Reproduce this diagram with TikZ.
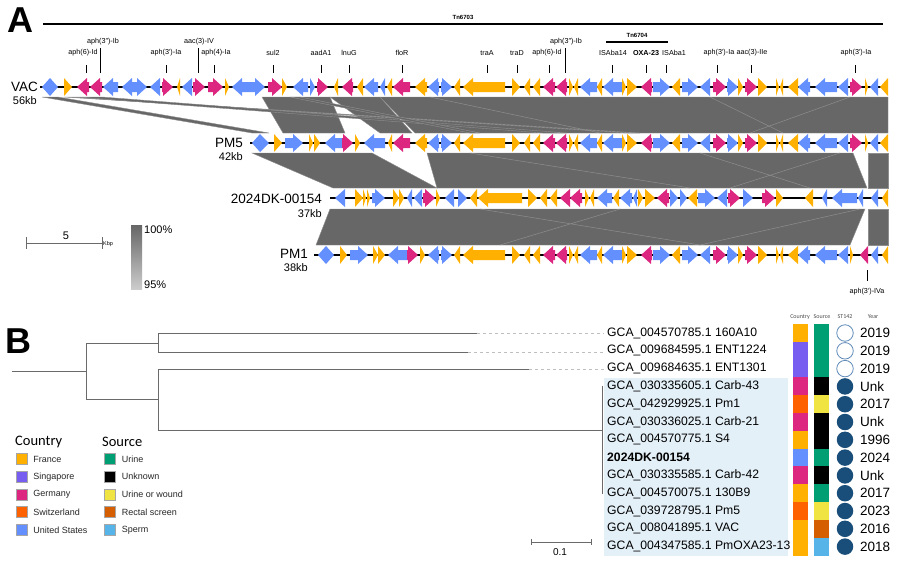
\documentclass[tikz,border=0pt]{standalone}
\usepackage{fontspec}
\setmainfont{Liberation Sans}
\newfontfamily\legfont{Carlito}
\usetikzlibrary{positioning}

\definecolor{geneo}{HTML}{FFB000}
\definecolor{genep}{HTML}{DC267F}
\definecolor{geneb}{HTML}{648FFF}
\definecolor{bandgray}{HTML}{676767}
\definecolor{bandedge}{HTML}{8E8E8E}
\definecolor{treegray}{HTML}{6A6A6A}
\definecolor{cFrance}{HTML}{FFB000}
\definecolor{cSing}{HTML}{785EF0}
\definecolor{cGer}{HTML}{DC267F}
\definecolor{cSwi}{HTML}{FE6100}
\definecolor{cUSA}{HTML}{648FFF}
\definecolor{sUrine}{HTML}{009E73}
\definecolor{sUnk}{HTML}{000000}
\definecolor{sWound}{HTML}{F0E442}
\definecolor{sRectal}{HTML}{D55E00}
\definecolor{sSperm}{HTML}{56B4E9}
\definecolor{stblue}{HTML}{1A4E7A}
\definecolor{stopen}{HTML}{5F8AB8}
\definecolor{cladebg}{HTML}{E4F0F8}

% gene arrows: start/end/direction/colour, on a track at height #1
\newcommand{\drawgenes}[2]{%
  \foreach \ga/\gb/\gd/\gc in #2 {%
    \pgfmathsetmacro{\ghd}{min(\gb-\ga,10)}%
    \pgfmathsetmacro{\gtip}{\gd>0 ? \gb : \ga}%
    \pgfmathsetmacro{\gtail}{\gd>0 ? \ga : \gb}%
    \pgfmathsetmacro{\ghb}{\gtip-(\gd)*\ghd}%
    \fill[gene\gc] (\gtail,#1-5) -- (\ghb,#1-5) -- (\ghb,#1-9) -- (\gtip,#1)
      -- (\ghb,#1+9) -- (\ghb,#1+5) -- (\gtail,#1+5) -- cycle;
  }}

\def\vacleft{42/50/-1/b, 50/58/1/b, 64/72/1/o, 77/89/-1/p, 90/102/-1/p,
  103/118/-1/b, 122/132/-1/b, 132/147/1/b, 150/160/-1/b, 162/173/1/p,
  177/180/-1/o, 182/192/-1/b, 193/205/1/p, 208/223/1/p, 225/229/1/o,
  232/242/-1/b, 242/265/1/b, 268/282/1/p, 282/287/1/o, 293/308/-1/b,
  310/315/1/b, 317/328/1/p, 334/338/-1/o, 342/353/-1/p, 357/363/-1/o,
  364/378/-1/b, 380/385/-1/b, 387/392/-1/o, 393/410/-1/p}
\def\vacmidA{415/427/-1/o}
\def\vacmid{428/439/-1/b, 441/452/1/b, 454/460/-1/o, 463/505/-1/o,
  512/520/1/o, 524/530/-1/o, 533/540/-1/o, 543/555/-1/p, 556/567/-1/p,
  569/573/1/o, 574/578/-1/o, 580/597/-1/b, 597/602/-1/o, 603/622/-1/b,
  622/626/1/o, 627/637/1/o, 641/652/-1/p, 653/670/1/b, 672/680/-1/o,
  682/698/1/b, 700/710/-1/b, 713/726/1/p, 727/738/1/b, 738/743/1/o,
  745/757/1/p, 758/767/1/o, 776/779/1/o, 780/783/-1/o, 788/798/-1/o,
  798/810/-1/b, 815/837/-1/b, 838/848/-1/b}
\def\vacend{850/862/1/p, 865/868/1/o, 870/878/-1/b, 880/888/-1/o}
\def\pmfiveleft{252/260/-1/b, 260/269/1/b, 274/282/1/o, 285/303/1/b,
  309/313/1/o, 314/320/1/o, 325/342/-1/b, 342/353/1/p, 355/360/1/o,
  364/385/-1/b, 388/392/-1/o, 393/410/-1/p}
\def\pmoneleft{318/326/-1/b, 326/334/1/b, 340/347/1/o, 350/368/1/b,
  373/378/1/o, 378/385/1/o, 388/407/-1/b, 407/418/1/p, 420/425/1/o}
\def\pmoneend{850/853/1/o, 860/868/-1/p, 871/878/-1/b, 882/888/-1/o}
\def\dkgenes{335/345/-1/b, 355/363/1/o, 363/366/1/o, 367/370/1/o,
  372/385/1/b, 393/399/1/o, 399/404/1/o, 407/412/-1/b, 414/422/-1/b,
  423/435/1/p, 436/440/1/o, 445/454/-1/b, 458/467/1/b, 470/477/-1/o,
  478/522/-1/o, 528/537/1/o, 540/547/-1/o, 550/557/-1/o, 560/570/-1/p,
  570/582/-1/p, 585/589/1/o, 590/594/-1/o, 597/612/-1/b, 613/619/-1/o,
  620/632/-1/b, 633/637/-1/b, 638/643/1/o, 645/655/1/o, 657/669/-1/p,
  670/678/1/b, 680/687/1/b, 688/697/-1/o, 698/715/1/b, 717/727/-1/b,
  728/740/1/p, 743/753/1/b, 762/775/1/p, 776/783/1/o, 805/813/-1/o,
  822/827/-1/b, 832/857/-1/b, 858/863/-1/b, 871/878/-1/b, 882/888/-1/o}

\begin{document}
\begin{tikzpicture}[x=1pt,y=-1pt,
  panel/.style={font=\fontsize{36}{36}\selectfont\bfseries, inner sep=0pt},
  genelbl/.style={font=\fontsize{7.2}{8}\selectfont, inner sep=0pt},
  genetick/.style={line width=0.6pt},
  tnlbl/.style={font=\fontsize{6}{7}\selectfont\bfseries, inner sep=0pt},
  trkname/.style={font=\fontsize{13.5}{15}\selectfont, anchor=east, inner sep=0pt},
  trksize/.style={font=\fontsize{11}{12}\selectfont, anchor=east, inner sep=0pt},
  backbone/.style={line width=2pt},
  band/.style={fill=bandgray, draw=bandedge, line width=0.4pt},
  bandline/.style={draw=bandedge, line width=0.5pt},
  branch/.style={draw=treegray, line width=0.9pt},
  leaflbl/.style={font=\fontsize{12.2}{14}\selectfont, anchor=west, inner sep=0pt},
  yearlbl/.style={font=\fontsize{13.5}{14}\selectfont, anchor=west, inner sep=0pt},
  colhead/.style={font=\legfont\fontsize{6}{7}\selectfont, text=black!70, inner sep=0pt},
  stfill/.style={fill=stblue},
  stempty/.style={draw=stopen, line width=0.8pt, fill=white},
  legtitle/.style={font=\legfont\fontsize{14.5}{16}\selectfont, anchor=west, inner sep=0pt},
  legitem/.style={font=\fontsize{9}{11}\selectfont, text=black!85, inner sep=0pt},
  swatch/.style={minimum size=11pt, inner sep=0pt, draw=black!35, line width=0.4pt}]
\useasboundingbox (0,0) rectangle (900,563);

%%% panel A
\node[panel] (pA) at (20,20) {A};
\draw[line width=1.1pt] (43,24) -- (883,24);
\node[tnlbl] (tn3) at (463,17) {Tn6703};
\draw[line width=1.1pt] (606,42) -- (668,42);
\node[tnlbl] (tn4) at (637,35) {Tn6704};

% homology bands
\foreach \ta/\tb/\ba/\bb in {380/888/415/888, 262/330/283/345, 330/380/380/412,
  42/58/252/269, 64/74/627/640, 77/102/543/567, 290/300/470/480}
  \filldraw[band] (\ta,97) -- (\tb,97) -- (\bb,133) -- (\ba,133) -- cycle;
\foreach \ta/\tb/\ba/\bb in {252/372/333/437, 427/853/437/867, 868/888/868/888}
  \filldraw[band] (\ta,153) -- (\tb,153) -- (\bb,188) -- (\ba,188) -- cycle;
\foreach \ta/\tb/\ba/\bb in {330/865/316/850, 868/888/868/888}
  \filldraw[band] (\ta,209) -- (\tb,209) -- (\bb,245) -- (\ba,245) -- cycle;
\draw[bandline] (430,97) -- (600,133) (710,97) -- (783,133) (850,97) -- (750,133);
\draw[bandline] (470,153) -- (690,188) (700,153) -- (810,188) (840,153) -- (730,188);
\draw[bandline] (480,209) -- (700,245) (860,209) -- (700,245) (620,209) -- (500,245);

% tracks
\draw[backbone] (40,87) -- (888,87);
\draw[backbone] (250,143) -- (888,143);
\draw[backbone] (330,198) -- (888,198);
\draw[backbone] (314,255) -- (888,255);
\drawgenes{87}{\vacleft}
\drawgenes{87}{\vacmidA}
\drawgenes{87}{\vacmid}
\drawgenes{87}{\vacend}
\drawgenes{143}{\pmfiveleft}
\drawgenes{143}{\vacmidA}
\drawgenes{143}{\vacmid}
\drawgenes{143}{\vacend}
\drawgenes{198}{\dkgenes}
\drawgenes{255}{\pmoneleft}
\drawgenes{255}{\vacmid}
\drawgenes{255}{\pmoneend}

\node[trkname] (vac) at (38,87) {VAC};
\node[trksize] (vackb) at (37,101) {56kb};
\node[trkname] (pm5) at (243,143) {PM5};
\node[trksize] (pm5kb) at (243,157) {42kb};
\node[trkname] (dk) at (322,199) {2024DK-00154};
\node[trksize] (dkkb) at (322,214) {37kb};
\node[trkname] (pm1) at (308,254) {PM1};
\node[trksize] (pm1kb) at (308,268) {38kb};

% gene names
\foreach \tx/\kx/\gtext/\glev [count=\gi] in {83/86/aph(6)-Id/1, 103/100/aph(3″)-Ib/2,
  166/166/aph(3′)-Ia/1, 199/198/aac(3)-IV/2, 216/214/aph(4)-Ia/1, 273/273/sul2/1,
  321/321/aadA1/1, 349/349/lnuG/1, 402/402/floR/1, 487/487/traA/1, 517/517/traD/1,
  547/549/aph(6)-Id/1, 566/565/aph(3″)-Ib/2, 613/612/ISAba14/1,
  646/646/\textbf{OXA-23}/1, 674/666/ISAba1/1, 719/717/aph(3′)-Ia/1,
  752/751/aac(3)-IIe/1, 856/855/aph(3′)-Ia/1} {
  \pgfmathsetmacro{\gy}{\glev==1 ? 53 : 42}
  \pgfmathsetmacro{\gt}{\glev==1 ? 65 : 48}
  \node[genelbl] (glab\gi) at (\tx,\gy) {\gtext};
  \draw[genetick] (\kx,\gt) -- (\kx,73);
}
\node[genelbl] (glabIVa) at (867,292) {aph(3′)-IVa};
\draw[genetick] (867,270) -- (867,281);

% scale and identity key
\draw[treegray, line width=0.7pt] (26,243) -- (102,243) (26,237) -- (26,249) (102,237) -- (102,249);
\node[font=\fontsize{11}{12}\selectfont] (kb5) at (66,236) {5};
\node[font=\fontsize{5.5}{6}\selectfont, anchor=west, inner sep=0pt] (kbp) at (103,244) {Kbp};
\shade[top color=black!60, bottom color=black!20] (131,225) rectangle (142,289);
\node[font=\fontsize{11}{12}\selectfont, anchor=west, inner sep=0pt] (id100) at (144,230) {100\%};
\node[font=\fontsize{11}{12}\selectfont, anchor=west, inner sep=0pt] (id95) at (144,285) {95\%};

%%% panel B
\node[panel] (pB) at (18,341) {B};
\fill[cladebg] (604,378) rectangle (788,556);
\draw[branch] (12,371) -- (86,371) (86,343) -- (86,399)
  (86,343) -- (158,343) (158,333) -- (158,352)
  (158,333) -- (477,333) (158,352) -- (468,352)
  (86,399) -- (158,399) (158,369) -- (158,430)
  (158,369) -- (529,369) (158,430) -- (602,430)
  (602,386) -- (602,494);
\draw[black!25, dashed, line width=0.6pt] (477,333) -- (604,333) (468,352) -- (604,352) (529,369) -- (604,369);
\draw[treegray, line width=0.7pt] (531,542) -- (591,542) (531,539) -- (531,545) (591,539) -- (591,545);
\node[font=\fontsize{10}{11}\selectfont] (tree01) at (560,552) {0.1};

\node[colhead] (hcountry) at (800,317) {Country};
\node[colhead] (hsource) at (822,317) {Source};
\node[colhead] (hst) at (845,317) {ST142};
\node[colhead] (hyear) at (873,317) {Year};

\foreach \lname/\lc/\ls/\lst/\lyr [count=\ri] in {
  GCA\_004570785.1 160A10/cFrance/sUrine/stempty/2019,
  GCA\_009684595.1 ENT1224/cSing/sUrine/stempty/2019,
  GCA\_009684635.1 ENT1301/cSing/sUrine/stempty/2019,
  GCA\_030335605.1 Carb-43/cGer/sUnk/stfill/Unk,
  GCA\_042929925.1 Pm1/cSwi/sWound/stfill/2017,
  GCA\_030336025.1 Carb-21/cGer/sUnk/stfill/Unk,
  GCA\_004570775.1 S4/cFrance/sUnk/stfill/1996,
  \textbf{2024DK-00154}/cUSA/sUrine/stfill/2024,
  GCA\_030335585.1 Carb-42/cGer/sUnk/stfill/Unk,
  GCA\_004570075.1 130B9/cFrance/sUrine/stfill/2017,
  GCA\_039728795.1 Pm5/cSwi/sWound/stfill/2023,
  GCA\_008041895.1 VAC/cFrance/sRectal/stfill/2016,
  GCA\_004347585.1 PmOXA23-13/cFrance/sSperm/stfill/2018} {
  \pgfmathsetmacro{\ry}{333+(\ri-1)*17.8}
  \node[leaflbl] (leaf\ri) at (607,\ry) {\lname};
  \fill[\lc] (793,\ry-8.95) rectangle (808,\ry+8.95);
  \fill[\ls] (814,\ry-8.95) rectangle (829,\ry+8.95);
  \node[circle, minimum size=16.5pt, inner sep=0pt, \lst] (st\ri) at (845,\ry) {};
  \node[yearlbl] (yr\ri) at (860,\ry) {\lyr};
}

% legend
\node[legtitle] (ctitle) at (15,442) {Country};
\foreach \lname/\lcol [count=\li] in {France/cFrance, Singapore/cSing, Germany/cGer,
  Switzerland/cSwi, United States/cUSA} {
  \node[swatch, fill=\lcol] (csw\li) at (21.5,{459+(\li-1)*17.7}) {};
  \node[legitem, right=6pt of csw\li] (cit\li) {\lname};
}
\node[legtitle] (stitle) at (102,442) {Source};
\foreach \lname/\lcol [count=\li] in {Urine/sUrine, Unknown/sUnk, Urine or wound/sWound,
  Rectal screen/sRectal, Sperm/sSperm} {
  \node[swatch, fill=\lcol] (ssw\li) at (110,{459+(\li-1)*17.7}) {};
  \node[legitem, right=6pt of ssw\li] (sit\li) {\lname};
}
\end{tikzpicture}
\end{document}
